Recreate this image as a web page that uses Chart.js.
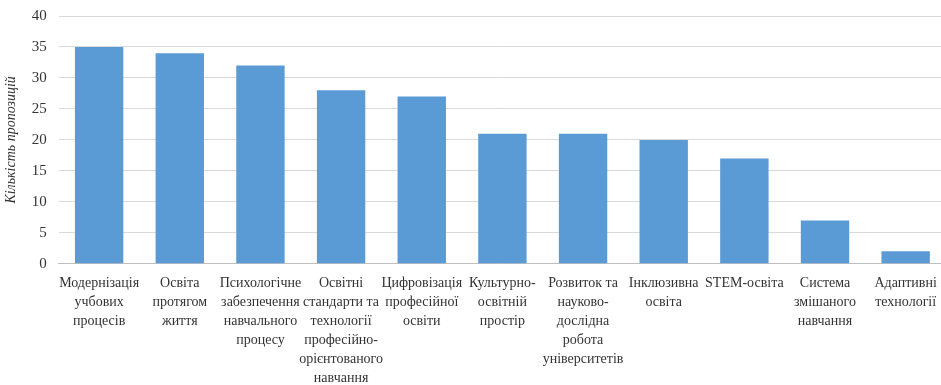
<!DOCTYPE html>
<html>
<head>
<meta charset="utf-8">
<script src="https://cdn.jsdelivr.net/npm/chart.js@4.4.0/dist/chart.umd.min.js"></script>
<style>
  html, body { margin: 0; padding: 0; background: #fff; overflow: hidden; }
  #wrap { width: 941px; height: 385px; overflow: hidden; position: relative; }
  #chart { position: absolute; left: 0; top: -5px; }
</style>
</head>
<body>
<div id="wrap"><canvas id="chart" width="946" height="390"></canvas></div>
<script>
// categories (already broken into lines like the original figure)
const categories = [
  ['Модернізація', 'учбових', 'процесів'],
  ['Освіта', 'протягом', 'життя'],
  ['Психологічне', 'забезпечення', 'навчального', 'процесу'],
  ['Освітні', 'стандарти та', 'технології', 'професійно-', 'орієнтованого', 'навчання'],
  ['Цифровізація', 'професійної', 'освіти'],
  ['Культурно-', 'освітній', 'простір'],
  ['Розвиток та', 'науково-', 'дослідна', 'робота', 'університетів'],
  ['Інклюзивна', 'освіта'],
  ['STEM-освіта'],
  ['Система', 'змішаного', 'навчання'],
  ['Адаптивні', 'технології']
];
const proposals = [35, 34, 32, 28, 27, 21, 21, 20, 17, 7, 2];
const yTitle = 'Кількість пропозицій';

const serif = "'Liberation Serif', 'Times New Roman', serif";

const ctx = document.getElementById('chart').getContext('2d');
new Chart(ctx, {
  type: 'bar',
  data: {
    labels: categories,
    datasets: [{
      data: proposals,
      backgroundColor: '#5b9bd5',
      borderWidth: 0,
      barPercentage: 0.6,
      categoryPercentage: 1.0
    }]
  },
  options: {
    responsive: false,
    animation: false,
    layout: { padding: { top: 0, right: 0, left: 0, bottom: -5 } },
    plugins: {
      legend: { display: false },
      tooltip: { enabled: false }
    },
    scales: {
      x: {
        grid: { display: false },
        border: { color: '#bfbfbf', width: 1 },
        ticks: {
          color: '#333',
          autoSkip: false,
          maxRotation: 0,
          minRotation: 0,
          padding: 2,
          font: { family: serif, size: 14, lineHeight: 1.36 }
        }
      },
      y: {
        min: 0,
        max: 40,
        border: { display: false },
        grid: { color: '#d9d9d9', lineWidth: 1, drawTicks: false },
        ticks: {
          stepSize: 5,
          color: '#333',
          padding: 12,
          font: { family: serif, size: 15 }
        },
        title: {
          display: true,
          text: yTitle,
          color: '#333',
          padding: { top: 3, bottom: 0 },
          font: { family: serif, size: 14, style: 'italic' }
        }
      }
    }
  }
});
</script>
</body>
</html>
